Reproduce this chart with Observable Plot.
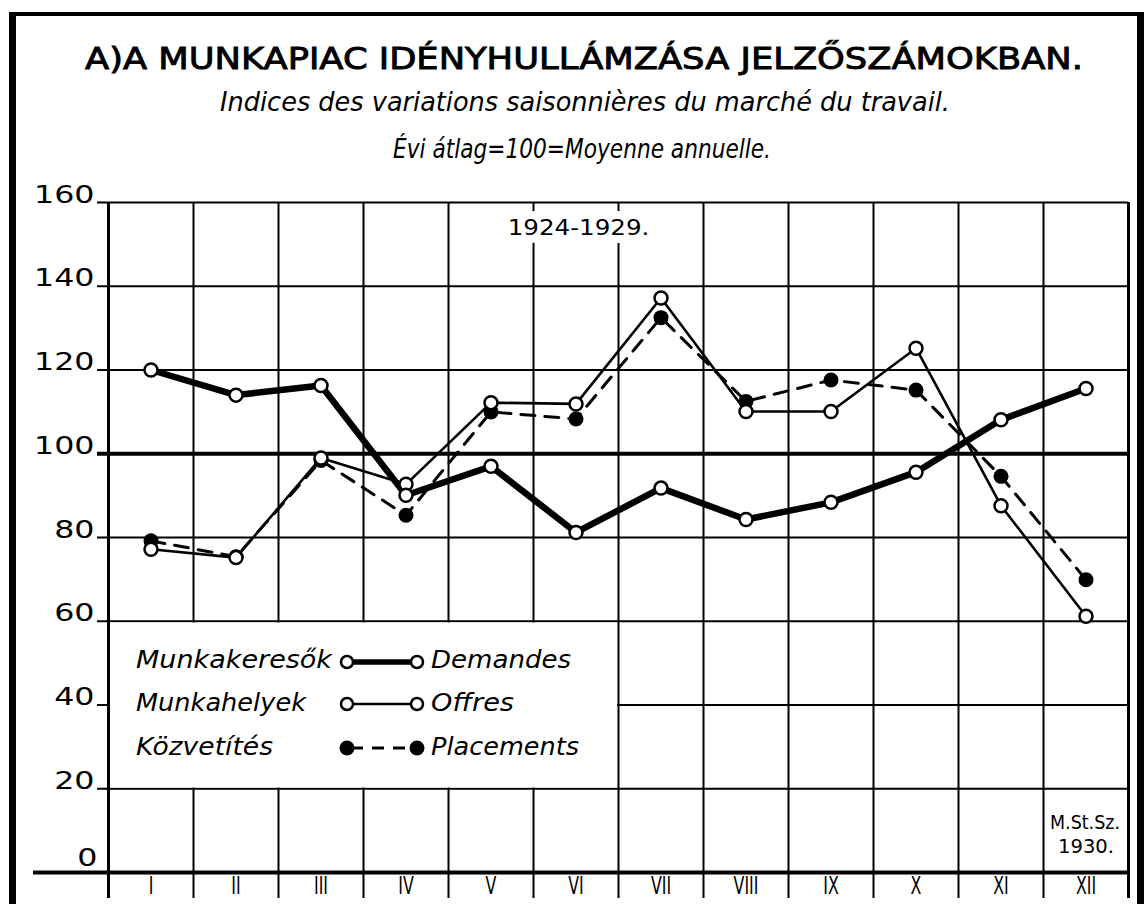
<!DOCTYPE html>
<html><head><meta charset="utf-8">
<script src="https://cdn.jsdelivr.net/npm/d3@7"></script>
<script src="https://cdn.jsdelivr.net/npm/@observablehq/plot@0.6"></script>
<style>
body{margin:0;background:#fff;}
#wrap{position:relative;width:1146px;height:904px;overflow:hidden;background:#fff;}
#border{position:absolute;left:9px;top:12px;width:1121px;height:900px;border-left:7px solid #000;border-right:7px solid #000;border-top:4px solid #000;}
.abs{position:absolute;left:0;}
</style></head>
<body><div id="wrap"><div id="border"></div></div>
<script>
const title = "A)A MUNKAPIAC IDÉNYHULLÁMZÁSA JELZŐSZÁMOKBAN.";
const subtitle = "Indices des variations saisonnières du marché du travail.";
const subtitle2 = "Évi átlag=100=Moyenne annuelle.";
const period = "1924-1929.";
const creditLines = ["M.St.Sz.", "1930."];
const months = ["I","II","III","IV","V","VI","VII","VIII","IX","X","XI","XII"];
const demandes   = [120, 114, 116.3, 90.1, 97, 81.2, 91.8, 84.3, 88.4, 95.6, 108.1, 115.6];
const offres     = [77.2, 75.2, 99, 92.7, 112.2, 111.9, 137.2, 110.1, 110.1, 125.2, 87.6, 61.2];
const placements = [79.2, 75.4, 98.4, 85.3, 110, 108.3, 132.5, 112.5, 117.6, 115.2, 94.6, 69.9];
const yTicks = [0, 20, 40, 60, 80, 100, 120, 140, 160];
const legendHu = ["Munkakeresők", "Munkahelyek", "Közvetítés"];
const legendFr = ["Demandes", "Offres", "Placements"];

const table = months.map((m, i) => ({m, pos: i + 0.5, demandes: demandes[i], offres: offres[i], placements: placements[i]}));
const bounds = d3.range(months.length + 1);
const thinTicks = yTicks.filter(v => v !== 0 && v !== 100);
const numFont = "DejaVu Sans";

const plot = Plot.plot({
  width: 1146, height: 724,
  marginTop: 22, marginBottom: 32, marginLeft: 108, marginRight: 18,
  x: {domain: [0, months.length], axis: null},
  y: {domain: [0, 160], axis: null},
  style: {background: "transparent", overflow: "visible"},
  marks: [
    Plot.ruleY(thinTicks, {stroke: "#000", strokeWidth: 2, insetLeft: -11}),
    Plot.ruleY([100], {stroke: "#000", strokeWidth: 4, insetLeft: -11}),
    Plot.ruleY([0], {stroke: "#000", strokeWidth: 4, insetLeft: -75}),
    Plot.ruleX(bounds, {stroke: "#000", strokeWidth: d => (d === 0 || d === months.length) ? 3 : 2, insetBottom: -26}),
    Plot.text([period], {frameAnchor: "top", dx: -40, dy: 26, lineAnchor: "middle", fontSize: 21, fontFamily: numFont, fill: "#000", stroke: "#fff", strokeWidth: 16}),
    Plot.text(yTicks.filter(v => v > 0), {y: d => d, text: d => String(d), frameAnchor: "left", dx: -14, dy: 0, textAnchor: "end", lineAnchor: "bottom", fontSize: 24, fontFamily: numFont, fill: "#000"}),
    Plot.text([0], {y: d => d, text: d => String(d), frameAnchor: "left", dx: -11, dy: -7, textAnchor: "end", lineAnchor: "bottom", fontSize: 24, fontFamily: numFont, fill: "#000"}),
    Plot.text(table, {x: "pos", text: "m", frameAnchor: "bottom", dy: 14, lineAnchor: "middle", fontSize: 24, fontFamily: numFont, fill: "#000"}),
    Plot.line(table, {x: "pos", y: "placements", stroke: "#000", strokeWidth: 3, strokeDasharray: "14,10"}),
    Plot.line(table, {x: "pos", y: "offres", stroke: "#000", strokeWidth: 2.6}),
    Plot.line(table, {x: "pos", y: "demandes", stroke: "#000", strokeWidth: 6.5}),
    Plot.dot(table, {x: "pos", y: "placements", r: 7.5, fill: "#000"}),
    Plot.dot(table, {x: "pos", y: "offres", r: 6.5, fill: "#fff", stroke: "#000", strokeWidth: 2.5}),
    Plot.dot(table, {x: "pos", y: "demandes", r: 6.5, fill: "#fff", stroke: "#000", strokeWidth: 2.5})
  ]
});
plot.classList.add("abs");
plot.style.top = "180px";
const wrap = document.getElementById("wrap");
wrap.appendChild(plot);

function rescale(pred, factor) {
  d3.select(plot).selectAll("text").filter(function() { return pred(this.textContent); }).each(function() {
    const len = this.getComputedTextLength();
    if (len > 0) {
      this.setAttribute("textLength", len * factor);
      this.setAttribute("lengthAdjust", "spacingAndGlyphs");
    }
  });
}
const yStrings = yTicks.map(String);
rescale(s => yStrings.includes(s), 1.32);
rescale(s => months.includes(s), 0.66);
rescale(s => s === period, 1.17);

// header
const head = d3.select(wrap).append("svg").attr("class", "abs").style("top", "0px").attr("width", 1146).attr("height", 180);
function htext(sel, txt, x, y, len, size, italic, heavy) {
  const t = sel.append("text").attr("x", x).attr("y", y).attr("textLength", len).attr("lengthAdjust", "spacingAndGlyphs")
    .attr("font-family", "DejaVu Sans").attr("font-size", size)
    .attr("font-style", italic ? "italic" : "normal")
    .attr("fill", "#000").text(txt);
  if (heavy) t.attr("stroke", "#000").attr("stroke-width", 0.9);
  return t;
}
htext(head, title, 85, 69, 998, 30, false, true);
htext(head, subtitle, 220, 111, 730, 27, true, false);
htext(head, subtitle2, 393, 158, 378, 27, true, false);

// legend and credit overlay
const leg = d3.select(wrap).append("svg").attr("class", "abs").style("top", "0px").attr("width", 1146).attr("height", 904);
leg.append("rect").attr("x", 110).attr("y", 622.5).attr("width", 507).attr("height", 165).attr("fill", "#fff");
const rowsY = [668, 711, 755];
const symY = [662, 704, 748];
const huLen = [196, 170, 137];
const frLen = [140, 83, 148];
legendHu.forEach((t, i) => {
  leg.append("text").attr("x", 136).attr("y", rowsY[i]).attr("textLength", huLen[i]).attr("lengthAdjust", "spacingAndGlyphs")
    .attr("font-family", "DejaVu Sans").attr("font-style", "italic").attr("font-size", 25).attr("fill", "#000").text(t);
  leg.append("text").attr("x", 431).attr("y", rowsY[i]).attr("textLength", frLen[i]).attr("lengthAdjust", "spacingAndGlyphs")
    .attr("font-family", "DejaVu Sans").attr("font-style", "italic").attr("font-size", 25).attr("fill", "#000").text(legendFr[i]);
  const ln = leg.append("line").attr("x1", 347).attr("x2", 417).attr("y1", symY[i]).attr("y2", symY[i]).attr("stroke", "#000")
    .attr("stroke-width", i === 0 ? 5.5 : i === 1 ? 2.6 : 3);
  if (i === 2) ln.attr("stroke-dasharray", "12,9").attr("stroke-dashoffset", -4);
  [347, 417].forEach(cx => {
    leg.append("circle").attr("cx", cx).attr("cy", symY[i]).attr("r", i === 2 ? 7.5 : 6)
      .attr("fill", i === 2 ? "#000" : "#fff").attr("stroke", "#000").attr("stroke-width", i === 2 ? 0 : 2.5);
  });
});
const creditX = [[1050, 70], [1058, 56]];
const creditY = [829, 853];
creditLines.forEach((t, i) => {
  leg.append("text").attr("x", creditX[i][0]).attr("y", creditY[i]).attr("textLength", creditX[i][1]).attr("lengthAdjust", "spacingAndGlyphs")
    .attr("font-family", "DejaVu Sans").attr("font-size", 19).attr("fill", "#000").text(t);
});
</script>
</body></html>
